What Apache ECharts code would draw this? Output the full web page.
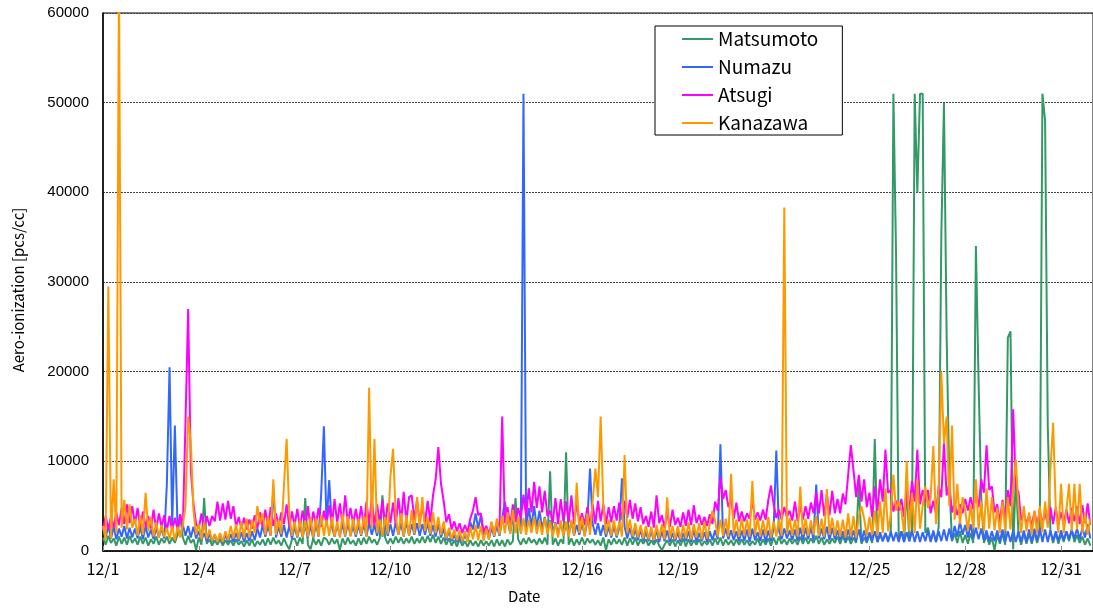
<!DOCTYPE html>
<html><head><meta charset="utf-8">
<script src="https://cdn.jsdelivr.net/npm/echarts@6/dist/echarts.min.js"></script>
<style>html,body{margin:0;padding:0;background:#fff}#c{width:1093px;height:610px}</style>
</head><body><div id="c"></div>
<script>
// ---- data (2-hour samples, 12 per day, Dec 1 .. Dec 31) ----
const seriesNames = ['Matsumoto', 'Numazu', 'Atsugi', 'Kanazawa'];
const xTickLabels = ['12/1','12/4','12/7','12/10','12/13','12/16','12/19','12/22','12/25','12/28','12/31'];
const hoursPerSample = 2;

const matsumoto = [
1500,700,1700,900,1400,600,1600,800,1500,700,1700,900,
1400,700,1600,800,1500,600,1300,800,1600,700,1400,900,
1600,800,1500,900,1800,4000,1500,700,1700,900,1300,100,
1500,700,5900,800,1300,600,1200,700,1300,600,1200,700,
1200,600,1300,700,1100,500,1200,600,1300,500,1100,700,
1300,600,1400,700,1500,800,1200,600,1400,700,200,1300,
1400,600,1500,800,5900,700,200,1400,700,1300,600,1500,
1300,700,1400,800,1300,100,1400,700,1500,800,1200,600,
1400,700,1500,800,1600,900,1300,700,1400,6200,1500,800,
1400,800,1600,900,1500,800,1400,900,1600,800,1400,900,
1600,900,1700,1000,1800,900,1600,800,1500,700,1400,600,
1200,500,1300,600,1100,500,1200,600,1100,500,1200,600,
1100,600,1200,500,1300,600,1200,500,1300,700,1100,5900,
1300,700,1400,800,1500,900,1300,700,1400,800,1500,700,
8900,700,1400,600,1300,800,11000,700,1400,600,1300,700,
1500,700,1400,900,1300,700,1200,600,1500,100,1300,700,
1400,800,1300,700,1500,600,1400,700,1500,600,1300,800,
1300,600,1200,700,1300,600,100,700,1200,600,1300,500,
1200,600,1400,500,1300,600,1200,700,1300,600,1100,700,
1300,600,1400,700,1500,600,1300,700,1200,600,1300,700,
1300,700,1200,600,1100,700,1400,600,1300,700,1400,600,
1500,700,1600,800,1300,700,1400,800,1300,700,1600,800,
1500,800,1400,900,1700,800,1500,700,1300,800,1400,900,
1600,800,1700,900,1600,800,1500,900,7700,800,1500,900,
1900,900,12500,1000,1800,1100,2000,1200,1900,51000,33000,1200,
2200,1000,7200,1100,2400,51000,40000,51000,51000,2000,2600,1100,
2100,1000,2600,35000,50000,24000,8000,1100,2000,900,2200,900,
1800,800,2000,900,34000,19000,6000,900,1800,700,1500,100,
1800,800,2000,700,23800,24500,200,8300,1900,700,2000,800,
1900,800,2100,900,2000,51000,48000,14000,2200,900,2000,800,
1900,1000,2200,1100,2400,1000,1800,900,1600,700,1400,600
];

const numazu = [
2600,1500,2800,1400,2700,1300,2500,1600,2800,1400,2600,1500,
2500,1400,2700,1300,2800,1500,2400,1300,2600,1500,2500,1400,
7500,20500,2900,14000,2700,1600,2900,1700,2800,1500,2700,1400,
2200,1200,2000,1100,1900,1000,1800,1000,1900,900,1800,1000,
1900,1000,2000,1100,2100,1000,2000,1100,2200,1200,2500,1500,
2900,1600,2800,1700,6900,1500,2700,1600,2900,1500,2800,1400,
2700,1500,2800,1600,2900,1500,2800,1400,3000,1600,6500,13900,
2900,7900,2700,1600,2900,1700,3000,1600,3100,1700,2800,1600,
2900,1700,3000,1600,3200,1800,2900,1700,3100,1600,3000,1700,
3000,1700,3200,1800,3100,1600,3300,1700,3000,1800,3100,1700,
3000,1800,3100,1700,2900,1600,3000,1500,2500,1200,2300,1100,
1800,1000,1700,1000,1800,1100,3200,2400,4200,2500,4000,1800,
2500,1300,2600,1600,2800,1700,3600,5500,3500,2000,3700,2200,
3800,2200,51000,2600,4800,2700,5000,2600,4500,2500,3800,2300,
3400,2000,3200,1900,3100,1800,3000,1800,3300,1700,2900,1800,
3100,1700,3300,9200,3000,1800,3100,1700,2900,1600,2700,1500,
2800,1500,2600,8100,2700,1400,2600,1300,2500,1200,2400,1100,
2200,1100,2300,1000,2400,1000,2200,1100,2300,1000,2000,1100,
2100,1000,2000,1100,2200,1000,2400,1000,2000,1100,2100,1000,
2200,1200,2300,1300,11900,1400,2500,1300,2300,1200,2200,1100,
2300,1100,2400,1000,2500,1200,2100,1100,2400,1000,2300,1100,
2500,11200,2300,1300,2500,1400,2300,1200,2400,1100,2600,1200,
2600,1300,2700,1200,7400,1400,2500,1300,2700,1200,2600,1300,
2300,1200,2200,1100,2400,1200,2300,1100,2400,1000,2300,1100,
2100,1100,2200,1000,2100,1100,2000,1000,2200,1100,2100,1000,
2200,1000,2100,1100,2300,1000,2200,1000,2100,1100,2300,1000,
2300,1000,2200,1100,2400,1100,2500,1200,2800,1600,3300,1800,
2900,1500,3000,1400,2600,1300,2500,1200,2300,1100,2200,1100,
2300,1000,2400,1000,2200,1000,2300,1000,2200,1000,2300,1000,
2400,1000,2500,1100,2600,1000,2400,1000,2300,1100,2200,1100,
2300,1200,2200,1300,2400,1400,2500,1300,2600,1500,3000,1400
];

const atsugi = [
2300,3900,2400,3800,2600,4300,2900,4800,3000,5200,3100,5000,
3000,4800,2600,4400,2700,3900,2500,4600,2400,4200,2700,4000,
2300,3900,2200,3700,2400,4100,2600,14400,27000,9000,5200,3000,
2500,4200,2400,3900,2800,3900,3300,5500,3400,5300,3500,5600,
3600,5000,2700,3800,2500,3700,2400,3500,2500,4000,2500,4300,
2700,4600,2600,4900,2800,4200,2800,4300,3000,5200,2700,4400,
2800,4700,2600,4500,2800,5000,2500,4400,3000,4800,2700,4500,
3000,5100,2800,5800,3100,5300,2900,6200,3100,4800,3000,4700,
2900,5000,2700,5500,3000,5900,2800,5200,3100,5700,2900,5300,
3100,5400,2900,5900,3300,6600,3200,6000,6200,3400,5700,3200,
5000,3100,5600,3200,6200,8000,11600,7500,5600,3200,4100,2400,
3300,2200,3100,2000,2900,2100,3600,4500,6000,4000,4200,2100,
2800,1900,3100,2000,3200,2600,15000,3100,4900,2800,5200,3200,
4800,3600,6300,3900,7000,4300,7700,4800,7200,4300,6700,3900,
4500,3100,5900,3000,5800,3300,5500,3200,6200,3000,5400,3200,
4200,2900,4900,2700,5200,3000,5600,3300,5200,3000,4900,3200,
5000,3400,5400,3500,5600,3700,5700,3600,5300,3300,4900,3000,
3900,2700,4400,2600,6200,3100,4000,2600,4300,2700,4600,2900,
3700,2700,4300,2800,4600,2900,5100,3100,4000,2900,3800,2800,
4100,3000,5500,4500,8200,5800,6800,4900,5800,3600,5400,3300,
4400,3300,4200,3600,5700,3500,4300,3400,4600,3500,5700,7300,
5200,3700,4600,3500,4900,3800,4500,3400,5500,3300,5000,3500,
5000,3600,5400,4200,6500,4200,6800,3900,6300,4000,6700,4200,
5800,4200,6400,5200,8500,11800,9000,6000,8500,5500,8000,4900,
6500,3800,7200,4500,8000,5500,11300,6500,6800,4400,5600,4500,
5800,3800,6900,4500,7800,5500,11300,5200,6800,5500,6800,4200,
5600,4200,7200,6000,12000,6200,7500,4300,5400,4000,5200,4200,
5800,4500,6000,4700,6300,4900,8000,6500,11800,6800,7200,4300,
5200,3200,5700,3400,6800,5000,15800,7000,6600,3400,4300,3000,
4000,2800,4400,2900,4500,3100,4200,3000,4900,3000,4800,3000,
4300,3000,4600,3100,4800,3300,5000,3000,5100,3100,5300,2900
];

const kanazawa = [
2800,1200,29500,1400,8000,2000,64000,2600,5700,2400,5200,2600,
3600,1700,4000,1800,6500,2200,3800,1600,3200,1500,2900,1600,
2600,1300,2800,1200,2700,1500,2900,5000,15000,12000,4500,1800,
3000,1300,3200,1400,2400,1100,1900,1000,2000,1000,2200,1200,
2800,1400,3000,1300,3300,1400,3600,1500,3500,2000,5000,3000,
4200,1800,3900,1700,8000,1800,3500,1900,7300,12500,4000,1700,
3300,1600,3500,1500,3400,1600,3800,1500,3700,1600,4000,1700,
3500,1700,3800,1600,3300,1500,4200,1700,3900,1600,3600,1800,
3600,1800,3900,1600,18200,2500,12500,2000,3500,1700,3800,1900,
8300,11400,3900,1800,4200,1600,4000,1700,4600,1900,6000,2500,
6000,2200,3800,1900,4300,2000,3800,1800,3300,1400,2600,1300,
2400,1200,2300,1100,2200,1000,2700,1300,2900,1200,2800,1100,
2500,1300,3300,1700,3600,1800,3900,2000,4300,1900,4600,2000,
3800,1900,3700,1800,3500,2000,3800,1900,3400,1800,3700,1900,
3300,1600,3100,1500,3400,1700,3300,1600,3500,1700,7600,2000,
3800,1600,4200,1800,5500,9200,6000,15000,5000,1900,3500,1700,
3400,1700,3300,1600,10700,2000,3500,1600,3100,1500,2900,1400,
2800,1300,2700,1200,2900,1400,3000,1300,6000,1400,2800,1300,
2800,1300,2900,1400,3200,1300,3000,1500,3100,1300,3300,1400,
3000,4500,3400,1600,3500,1700,3600,1600,8600,1800,3500,1600,
3600,1700,3500,1600,7800,1800,3700,1600,3400,1700,3800,1500,
3300,1600,3500,1700,38300,1900,3700,1700,3500,1600,7200,1800,
3600,1700,3400,1800,3900,1700,3600,1600,6900,1800,3700,1700,
3400,1600,3500,1500,4200,1600,3900,1500,3800,5000,3600,1700,
3800,1800,4500,1700,5500,2000,7000,2200,4000,8500,4500,5500,
4500,2000,10000,2200,6500,2000,8000,2500,5000,7200,4800,6000,
11700,3000,7000,20000,12000,15000,5000,14000,3500,7500,3000,6000,
4500,2200,5200,2500,8000,2400,5500,2200,7000,2500,6000,2300,
4800,2000,5500,2300,6000,2400,7000,10200,4800,2000,5000,2200,
4300,1800,4500,2000,5000,2100,5500,2600,9000,14300,4800,2000,
7500,2000,4500,7500,2200,7500,2400,7500,2000,4200,1800,3600
];

// ---- styles ----
const seriesColors = ['#339966', '#3366ff', '#ff00ff', '#ff9900'];
const allValues = [matsumoto, numazu, atsugi, kanazawa];

function toPoints(arr) {
  return arr.map((v, i) => [i * hoursPerSample / 24, v]);
}

const chart = echarts.init(document.getElementById('c'), null, { renderer: 'canvas' });
chart.setOption({
  animation: false,
  backgroundColor: '#fff',
  grid: {
    left: 103, top: 13, width: 992, height: 538,
    show: true, borderColor: '#000', borderWidth: 1, backgroundColor: 'transparent'
  },
  legend: {
    data: seriesNames,
    orient: 'vertical',
    left: 655, top: 26,
    icon: 'rect',
    backgroundColor: '#fff',
    borderColor: '#000', borderWidth: 1,
    padding: [3, 24, 2, 27],
    itemWidth: 31, itemHeight: 2, itemGap: 8,
    textStyle: { fontFamily: 'Noto Sans CJK JP', fontSize: 19, color: '#000', lineHeight: 20 }
  },
  xAxis: {
    type: 'value', min: 0, max: 31, interval: 3,
    axisLine: { show: true, lineStyle: { color: '#000', width: 1.5 } },
    axisTick: { show: true, inside: true, length: 5, lineStyle: { color: '#888', width: 1 } },
    splitLine: { show: false },
    axisLabel: {
      margin: 10, fontFamily: 'Noto Sans CJK JP', fontSize: 16, color: '#000',
      showMaxLabel: false,
      formatter: v => (Math.abs(v / 3 - Math.round(v / 3)) < 1e-6 ? (xTickLabels[Math.round(v / 3)] || '') : '')
    }
  },
  yAxis: {
    type: 'value', min: 0, max: 60000, interval: 10000,
    axisLine: { show: true, lineStyle: { color: '#000', width: 1.5 } },
    axisTick: { show: false },
    splitLine: { show: true, lineStyle: { color: '#444', width: 1, type: [2, 1] } },
    axisLabel: { margin: 14, fontFamily: 'Liberation Sans', fontSize: 15, color: '#000', formatter: v => String(v) }
  },
  graphic: [
    { type: 'text', left: 508, top: 589, style: { text: 'Date', font: '15px "Noto Sans CJK JP"', fill: '#000' } },
    { type: 'text', x: 18, y: 290, rotation: Math.PI / 2,
      style: { text: 'Aero-ionization [pcs/cc]', font: '15px "Noto Sans CJK JP"', fill: '#000', align: 'center', verticalAlign: 'middle' } }
  ],
  series: seriesNames.map((name, k) => ({
    name,
    type: 'line',
    data: toPoints(allValues[k]),
    symbol: 'none',
    clip: true,
    lineStyle: { color: seriesColors[k], width: 2 },
    itemStyle: { color: seriesColors[k] },
    z: 2 + k
  }))
});
</script>
</body></html>
